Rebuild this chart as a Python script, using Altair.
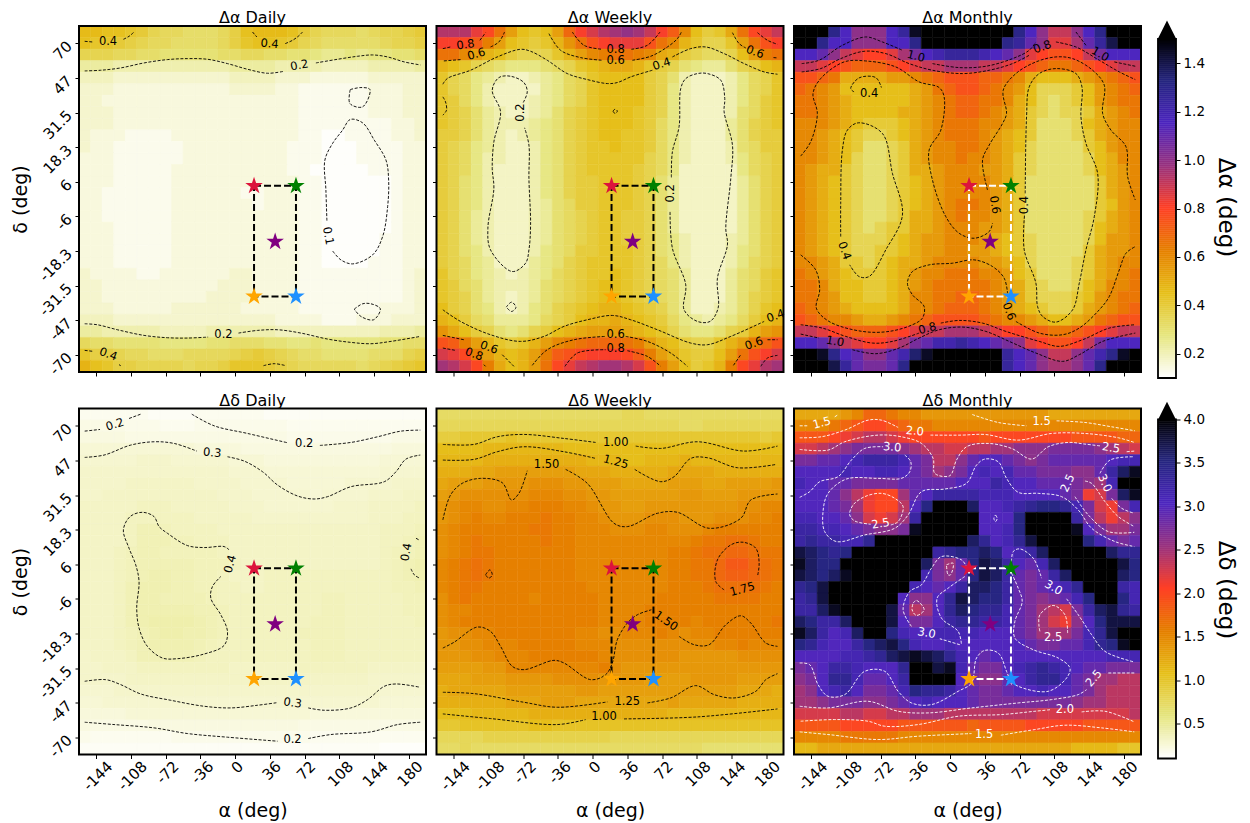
import altair as alt
import pandas as pd

# ---------- axis labels ----------
RA_TICKS = [-144, -108, -72, -36, 0, 36, 72, 108, 144, 180]
DEC_ROWS = [1.5, 4.5, 7.5, 10.5, 13.5, 16.5, 19.5, 22.5, 25.5, 28.5]
DEC_LABELS = ["70", "47", "31.5", "18.3", "6", "-6", "-18.3", "-31.5", "-47", "-70"]
CMAP = ["#ffffff", "#e6e680", "#e6bf1a", "#e68000", "#ff4026", "#993380", "#4d26bf", "#262680", "#000000"]

# ---------- gridded values: one base-36 character per cell, times the panel's step ----------
A_DAILY_STEP = 0.021
A_DAILY = [
"mmllkjhggf ffgilm mmljh gggfg hhij","lkkjihggff ffgikl lkjhg fffff ghhi","hhhggffeee eeffgg ffeed ccdcd deef",
"bbbaaaaaaa aaabbb baaaa 9999a aaab","9998888888 888999 98887 77778 8888","8887777777 777888 87766 66667 7788",
"8877777777 777777 77766 66667 7788","8887777777 777777 77766 66667 7788","8887777777 777777 77766 66666 6778",
"8777666677 777777 77766 55666 6778","8776666667 777777 77666 55566 6677","7776666667 777777 77666 55566 6677",
"7776666677 777777 77665 55556 6677","7776666677 777777 77766 55555 5677","7766666677 777766 77766 55555 5677",
"7766666677 777776 77766 55555 5677","7766666677 777777 77766 55555 5677","7776666677 777777 77766 55555 5677",
"7776666677 777777 77766 55555 6677","7776666677 777777 77766 55555 6677","7776666677 777777 77766 55556 6677",
"8777766777 777887 77766 66666 6678","8877777777 778887 77766 66666 6678","8877777777 788887 77766 66666 6678",
"8887777788 888877 77766 66666 7778","9998888888 888888 87777 66677 7888","bbaaaaa999 9aaaaa a9999 99999 aaab",
"gffeeeeddd deefff eedde ddddd eeff","kiihggfffg ggghij ihgff eeeef ffhi","nlkiihhhhg hhikkk jihgg gggfg hijk",
]
A_WEEKLY_STEP = 0.03
A_WEEKLY = [
"vvvsqmifef inrtvw xwuro kfdeh mqsu","rrqolifede gjmprs sspmk gecce impr","mmkigfdccc egiklm mlkhg dcbbc film",
"gfecba999a bcefgh hgedc a988a cdfg","ecb9876678 9bceff ffdca 76667 9bce","ecb9766668 9bceff ffdc9 76667 9bce",
"edb9766678 9bceff ffdc9 76667 9bde","edca876678 acdeff fedc9 76667 abde","edca877789 acdeff fedb9 76668 acde",
"ddca876789 acdeff eedb9 76668 acdd","dcb9876679 acdeef eedb9 76667 abdd","dcb9776679 acdeee eecb9 76667 9bcd",
"dcb9766679 acdeee edcb9 66666 9bcd","dca9766679 acddee edca8 66666 8acd","dca9766679 acddee edca8 66666 8acd",
"dca9766678 abddee edca8 66666 8acd","dca8766678 abcdee ddca8 66666 8acd","dca8766678 abcdee ddca8 66666 8acd",
"dca8766678 abcdee ddca9 76667 8acd","dca9766679 abddee edca9 76667 9acd","dcb9866689 acdeee edcb9 76667 9bcd",
"ecb9876789 bcdeef edcba 86668 abde","edba87778a bcdeff edcba 86668 abde","edca87678a bcdeff edcba 86668 acde",
"fdca97679a cdefgg fedca 86678 acef","gfdba8889b cdfggh gfedb 98789 bdfg","jhfdca9acd fghiii hgfec a99ac dgij",
"poligedegi klmnnn mligf dcceg ilnp","tsqligfgil opqrrr qolig eddfi mprt","wvtqlhfgim qsuvww vtpli fdegl qsvw",
]
A_MONTHLY_STEP = 0.05
A_MONTHLY = [
"uuuqnkkknp tuuuuu uuuqn kiikn quuu","uuqnnkkknn quuuuu uuqpm khhjm psuu","nnmkihgghj lnoppp onmkh gffgi lnnn",
"iihgfeeefg hiijjj iihgf eddef ghii","ffedaaaabb cdefff eedca 999ab cdef","edcb999999 abdeff edcb9 77789 bcde",
"ddcba99999 abcdee ddca9 76789 bcdd","ddcba9999a abcdee dcba8 76778 abcd","cccba98889 abcddd ccba8 66679 abcc",
"ccba987789 abcddd cba98 66678 abcc","ccba986678 abccdd cba97 66668 9bcc","ccba976678 abccdc cba87 66667 9acc",
"cbaa876678 aabccc bba87 66667 9abc","cba9876678 9abccc cba86 66666 8abc","cba9876678 9abccc cba86 66666 8abc",
"cba9876678 9abcdd cba86 66666 89bc","cba9876678 aabcdc cba86 66667 8abc","cba9876788 aabccc bba86 66667 9abc",
"cba9877789 abbccc ba987 66667 9bbc","cba9877889 abbccb ba987 66668 abbc","ccba88789a abcccc bba97 66678 abcc",
"dcba98889a bccddd ccb98 66678 abcd","ddca99889a bcdddd dcba8 76679 accd","ddcb99889a ccddee dcba8 77789 bcdd",
"edcba9999a ccdeee dcba9 8778a bcde","fedccbaabc deffff edccb a99ab deff","iihgfeeefg hiijjj ihggf eddef ghii",
"nnmkihgghj lmoopo nmlkh gffgi lnnn","uutqnmkkmo rtuuuu uupnm kiikm oqtu","uuuspmllmq uuuuuu uupnm kjjkm quuu",
]
D_DAILY_STEP = 0.02
D_DAILY = [
"8888887777 888888 77777 77777 7777","aaaa999888 999999 99888 88888 8888","bbbbaaaaaa aaaaaa aa999 99999 9aaa",
"dddddddddd ccccbb bbbbb bbbbb bccc","eeeeefffee eeeddd ccccc ccccc dddd","ffffffffff fffeee ddddd ddddd eeee",
"ffffgggggg ffffee eeddd ddeee efff","ffgggggggg ggfffe eeeed eeeef ffgg","ggggghhhgg gggfff eeeee efffg gggh",
"gggghhhhhh gggggf fffff ffffg gghh","gggghjjihh hhgggg ggggg ggggg hhhi","gggghjjjii hhhggg ggggg ggggg hhij",
"ggghijjiii iihggg ggggg ggggg hiij","ggghijjjjj iiihgg ggggg ggggg hijk","ggghijkkjj iihggg hhhhh hhhhh hijk",
"ggghjkkkjj iihhgg hhhhh hhhhh hiij","ggghjkkjjj jihhhh hhhhh iihhh hhii","ggghjkkkkk jjihhh hhhhh iihhh hhii",
"ggghjkllll kjihhh hhhhi iihhh hhhi","ggghijkllk kjihhh hhhii iihhh hhhh","ggghijkkkk jihhhh hhhhi iihhh hhhh",
"fggghjjjjj ihhhhh hhhhi iihhh hhhh","ffggghhhhh hhhggg ggghh hhhhg gggg","ffffgggggg gggggg ggggg ggggf ffff",
"eeefffffff ffffff fffff fffff eeee","ddeeeeeeee eeeeee eeeee eeeee dddd","ccccdddddd dddddd ddddc ccccc cccc",
"baaaaabbbb bbbbbb bbbaa aaaaa aaaa","9888888899 999999 99998 88888 8888","7777777777 777777 77777 77777 6666",
]
D_WEEKLY_STEP = 0.06
D_WEEKLY = [
"cccccccccc cccccc ddccc ccccc cccc","dddddddddd dddddd ddddd ccddd dddd","ffgggghggg gggggg ggggg ggggg ggfg",
"iiiijjjjjj jiiiii iiiii iiiii iiii","jjjjkkkkkk kkkjjj iijjj kjjjj jjjj","kkkllmmmmm mmlllk kkkkl lllkk kkkk",
"lmmmnnnnoo onnmmm llllm mmllm mmmn","mnoooooopp poonnm mmmmm nnmmm nnnn","noppooppqq qpponn mmnnn nnnnn oopp",
"nopqppqqqr qqppon nnooo nnnoo oppq","opqqqqqqrr qqpppo ooppo oopqq qqqq","opqrqqqqqr qqpppp ppppp pqrrs srqq",
"opqrrqqqqq qqpppp ppppq qrsst tsrr","pqrsrqqqqq qqpppp ppppq qrrtv vtsr","pqrsrqqqqq qqpppp ppppq qrrtu utsr",
"pqrrqqqqqq qqqppp ppppq qqrss ssrq","oqrqqqqqpq qqqqpp pppqq qqqrr rrqq","oppqqqqqqq qqqqpp ppqqq qqqqq qqqq",
"opqqqqqqqq qqqqpp ppqqq qpqqq qqqr","nooppqqqqq qqppoo pppqp oppqq qqqq","nnoopppqqq qqpppo ooooo ooopp qppp",
"nnnoopppqq qqqqpo ooooo nnnnn oooo","mmmmnnpppp ppppqo nnnnn nnnnn nnnn","lllmmmnnnn oooonn nnmmm mnnnn mmmm",
"klllllmmmm mmnnmm mmmmm mmmmm lllk","kkkkkklllm mmllll llllm lllll kkkk","iiijjjjjkk kkkkkk kkkkj jjjjj jjjj",
"gghhhhhhii hhhhhh hhhhh hhhhh hhhh","ddddeeeeee eeeeed ddddd ddddd dddd","ccdccccccc cccccc ccccc ccbbb bbbb",
]
D_MONTHLY_STEP = 0.125
D_MONTHLY = [
"aaaabceedc cbbbbb bbbbb baaaa aaaa","cccdefggfe ddcccc ccccc ccccc cccc","fffghijjih gggggg fgggg gggff ffee",
"iijklmmmml kjjiij jkkll lmmmm lkji","mmnnopqqqp nmjjln oonml mnnnn nopp","oooopooppo nmklmo popnn mmmll nqtv",
"poonnmmmmn nnnnoo oqpoo nnnml kpww","ooonljhggk noqqqq pppoo oonmh imtv","ooonmkhggj oswwwt oopqr ssrpm ihmp",
"ppoonlihik qwwwww ooosw wwwqm jhjl","qqpponmllm vwwwww oopsw wwwvo mkkm","qrqqpprwww wwwwwt ropru wwwws pnmn",
"utsrswwwww wwqrss tsopq twwww wtrr","vtsswwwwww wtmkns utqon ptwww wwus","utstvwwwww wpmlns utqnm nqtww wwts",
"rsuwwwwwww ponoqt tsqnm noprw wwqp","qruwwwwwwo llorut ssqnm lmnps wwsp","qqtvwwwwun jkorts rrpnm kjimq turq",
"tsqqtwwwuo mmoqrr qqpnm kihlo suuu","vtqoptwwsp oopppp ooonm kkkmp ruww","srpooqstus poopoo oooon mmnnp rsvw",
"ooooppqrtu vutrpo noooo ooooo oppp","mnoqqpooor wwuvpn mmopq rqpon nmmm","lmorrpnnoq wwwwom llnoq rrpnm kkjj",
"klopqommnp srrqon mmnoo poonm kjjj","kklmmmllmn opooon mmmmm mmmlk kjjj","iiiijjiijj kkkjjj jjjjj iiiii iiij",
"ffffgggggf fffffe ffffg ggggf ffff","ccccdddddc cccccc ccccc ccccc cccc","99aaaaaaaa aaaaaa aaaaa aaa99 9988",
]

# ---------- contour read-offs, in units of 1/1040 of the panel, plus reading origin ----------
READ_SPAN = 1040.0
C_A_DAILY = [
[(42,73),(65,75)],[(158,67),(175,58),(190,45)],[(545,45),(558,60)],[(643,80),(665,70),(682,58),(695,45)],
[(42,162),(90,160),(150,153),(220,138),(290,128),(350,125),(410,127),(470,140),(530,157),(590,169),(640,163)],
[(735,138),(800,127),(860,118),(905,114),(950,120),(1000,135),(1048,144)],
[(838,218),(870,212),(897,218),(875,270),(837,260),(838,218)],
[(768,612),(765,520),(762,430),(785,380),(815,340),(838,308),(875,318),(910,370),(945,430),(953,490),(950,570),(935,660),(905,715),(845,742),(810,730),(785,703)],
[(850,878),(875,862),(900,862),(928,877),(908,910),(870,900),(850,878)],
[(42,922),(80,925),(140,940),(220,957),(290,964),(350,965),(412,962)],
[(503,950),(560,942),(620,940),(690,950),(770,968),(840,978),(900,982),(960,975),(1048,960)],
[(42,1002),(68,1005)],[(145,1045),(150,1048)],[(578,1048),(610,1042),(645,1048)],
]
L_A_DAILY = [("0.4",112,76,0),("0.4",596,82,5),("0.2",686,147,-10),("0.1",770,658,80),("0.2",458,955,0),("0.4",112,1015,20)]
C_D_DAILY = [
[(42,88),(88,83)],[(175,50),(210,37)],
[(363,37),(430,72),(530,95),(650,123)],[(747,131),(840,122),(920,105),(990,88),(1048,85)],
[(42,167),(100,160),(180,130),(250,120),(310,125),(378,148)],
[(470,165),(520,178),(575,210),(620,250),(680,283),(730,292),(770,285),(840,255),(940,240),(975,210),(1005,172),(1048,160)],
[(475,445),(460,435),(400,438),(350,432),(290,395),(265,375),(250,345),(215,332),(178,345),(158,385),(175,440),(195,490),(205,540),(198,620),(205,680),(230,735),(275,770),(320,772),(400,758),(460,732),(470,690),(450,640),(420,590),(425,555),(450,525)],
[(1035,410),(1044,415)],[(1020,502),(1030,520),(1046,530)],
[(42,840),(105,835),(150,850),(210,878),(300,897),(400,915),(480,920),(560,912),(620,904)],
[(712,920),(760,927),(840,920),(890,895),(940,855),(975,848),(1048,858)],
[(42,963),(130,970),(250,980),(350,997),(470,1008),(620,1020)],
[(712,1012),(780,1000),(900,992),(980,970),(1048,963)],
]
L_D_DAILY = [("0.2",133,70,-18),("0.2",700,127,0),("0.3",424,155,5),("0.4",480,488,-75),("0.4",1008,452,-80),("0.3",665,907,8),("0.2",665,1017,0)]
C_A_WEEKLY = [
[(37,110),(60,105)],[(148,85),(165,62)],[(40,147),(90,143)],[(180,105),(205,90),(222,60)],
[(37,217),(50,200),(120,175),(200,135),(270,112),(300,118),(350,145),(410,185),(470,203),(530,215),(560,212),(600,195),(665,175)],
[(725,135),(780,110),(825,105),(880,125),(940,155),(1000,180),(1040,187)],
[(425,60),(460,100),(515,112)],[(602,112),(650,100),(688,60)],
[(355,65),(390,115),(450,137),(515,145)],[(605,145),(660,133),(710,105),(740,80),(752,60)],
[(37,255),(45,270),(48,295),(37,310)],
[(980,62),(1010,85),(1040,97)],[(905,62),(925,95),(945,108)],[(1028,137),(1040,138)],
[(278,272),(290,240),(280,212),(240,193),(205,197),(185,235),(210,300),(190,390),(185,470),(190,530),(172,650),(180,715),(245,780),(285,755),(295,715),(300,640),(295,500),(295,400),(282,348)],
[(227,887),(243,872),(256,888),(243,900),(227,887)],[(547,298),(553,292),(560,298),(553,305),(547,298)],
[(722,497),(725,420),(745,345),(750,230),(765,200),(800,185),(830,185),(870,205),(882,260),(880,300),(905,400),(900,500),(885,650),(890,700),(860,800),(862,890),(838,930),(800,930),(760,895),(765,820),(725,710),(718,600)],
[(37,895),(90,930),(180,970),(270,990),(340,975),(400,945),(470,925),(545,912),(600,925),(680,955),(780,995),(830,1000),(900,975),(1000,930)],
[(37,972),(100,985)],[(215,1030),(250,1065)],[(305,1062),(350,1015),(430,985),(525,975)],[(585,975),(650,990),(720,1025),(770,1065)],
[(908,1062),(930,1030)],[(1010,985),(1040,985)],
[(37,1010),(75,1017)],[(160,1060),(165,1065)],[(403,1065),(440,1025),(525,1015)],[(590,1018),(650,1035),(690,1065)],[(990,1065),(1010,1040),(1040,1032)],
]
L_A_WEEKLY = [("0.8",105,100,-8),("0.6",138,128,-15),("0.4",693,158,-18),("0.8",555,113,0),("0.6",555,148,0),("0.6",972,122,20),("0.2",272,302,-90),("0.2",722,545,-90),("0.4",1035,915,-20),("0.6",175,1010,20),("0.6",555,972,0),("0.6",970,998,-20),("0.8",130,1030,20),("0.8",555,1013,0)]
C_D_WEEKLY = [
[(37,143),(130,143),(200,120),(280,113),(400,125),(495,137)],[(615,148),(690,155),(800,135),(940,163),(1040,148)],
[(37,190),(130,188),(200,165),(280,150),(400,165),(495,185)],[(612,218),(690,255),(730,240),(780,185),(830,183),(920,213),(1037,203)],
[(37,370),(60,295),(95,260),(150,245),(215,258),(243,310),(265,290),(290,222)],
[(405,218),(470,260),(550,380),(590,390),(680,350),(740,347),(835,395),(930,365),(960,310),(1040,292)],
[(880,580),(855,555),(860,490),(900,445),(937,437),(975,455),(985,500),(980,540)],
[(165,535),(178,520),(185,535),(175,545),(165,535)],
[(37,755),(70,738),(140,692),(180,705),(210,750),(245,810),(280,820),(370,792),(400,800),(480,850),(525,835),(545,800),(560,730),(590,680),(620,655),(662,640)],
[(745,720),(790,745),(835,745),(885,685),(930,658),(960,680),(1005,740),(1040,750)],
[(37,888),(130,892),(280,918),(380,933),(530,917)],[(650,920),(720,905),(795,868),(850,895),(910,905),(975,885),(1005,850),(1040,832)],
[(37,953),(180,967),(380,985),(465,970)],[(580,968),(800,962),(1040,938)],
]
L_D_WEEKLY = [("1.00",555,140,0),("1.25",555,197,15),("1.50",348,205,0),("1.75",935,580,-15),("1.50",705,675,35),("1.25",590,917,0),("1.00",520,963,0)]
C_A_MONTHLY = [
[(48,140),(100,130),(170,85),(240,60),(290,75),(350,100)],[(440,140),(520,152),(600,148),(680,125),(730,100),(750,75)],
[(48,165),(105,155),(165,125),(235,103),(300,110),(370,140),(440,160),(530,170),(610,160),(680,140),(730,115)],
[(810,75),(870,90),(940,130),(1000,165),(1048,188)],
[(870,45),(900,85)],[(985,135),(1048,148)],
[(45,418),(75,375),(95,290),(82,230),(105,185),(175,135),(240,132),(330,150),(400,195),(460,212),(475,240),(465,340),(430,400),(440,490),(480,600),(520,650),(565,665),(610,645),(620,620)],
[(605,520),(590,430),(610,385),(650,320),(662,290),(652,220),(690,170),(750,135),(810,120),(860,125),(920,160),(955,205),(950,290),(975,340),(1020,390),(1025,480),(1048,550)],
[(205,225),(195,215),(220,183),(270,182),(287,212)],
[(165,660),(165,560),(170,400),(185,340),(218,318),(290,350),(320,470),(350,595),(300,700),(250,780),(220,780),(192,745)],
[(718,530),(722,300),(730,210),(760,170),(810,155),(870,170),(888,210),(885,300),(900,380),(935,470),(925,600),(900,700),(880,800),(860,880),(810,917),(770,900),(755,870),(750,800),(715,700),(716,595)],
[(45,715),(90,760),(102,820),(92,875),(130,915),(230,945),(310,945),(380,925),(410,905),(415,870),(380,835),(365,800),(380,765),(430,745),(500,740),(565,730),(620,750),(655,785),(665,830)],
[(690,915),(760,950),(830,955),(880,935),(940,880),(970,840),(1000,760),(1020,710),(1048,690)],
[(45,925),(110,935),(180,960),(260,980),(320,975),(400,950)],[(465,920),(520,912),(590,920),(660,945),(760,975),(820,990),(890,970),(970,935),(1048,925)],
[(45,953),(100,965)],[(200,1000),(270,1012),(340,995),(400,965),(460,940),(530,932),(600,945),(670,975),(750,1010),(830,1035),(880,1015),(950,975),(1048,950)],
]
L_A_MONTHLY = [("1.0",390,120,15),("0.8",770,92,-20),("1.0",942,113,30),("0.6",625,565,80),("0.4",250,230,0),("0.4",175,703,70),("0.4",718,565,-90),("0.6",668,885,70),("0.8",425,938,-15),("1.0",148,977,10)]
C_D_MONTHLY = [
[(45,72),(70,72)],[(150,45),(158,40)],[(562,38),(640,62),(725,72)],[(815,57),(900,62),(980,75),(1050,87)],
[(45,108),(110,105),(180,85),(250,55),(290,55),(340,77)],[(437,100),(530,100),(600,98),(700,115),(800,95),(900,95),(1000,108),(1048,122)],
[(45,143),(130,145),(180,120),(280,100),(350,105),(410,125),(445,170),(450,215),(495,222),(515,175),(545,135),(610,125),(680,140),(740,172),(790,135),(850,122),(900,127),(950,133)],
[(1025,150),(1048,148)],
[(45,287),(75,270),(105,240),(160,225),(200,175),(240,140),(295,135)],
[(360,160),(378,180),(375,210),(350,230),(280,230),(185,232),(130,275),(115,330),(120,390),(155,420),(240,400),(330,380),(370,340),(410,270),(480,262),(545,245),(575,190),(600,172),(640,180),(665,230),(700,272),(760,275),(830,285),(880,325),(920,380),(990,420),(1048,435)],
[(318,370),(340,360),(355,315),(330,290),(290,275),(240,285),(205,310),(195,340),(210,358),(258,368)],
[(870,285),(910,340),(970,390),(1048,392)],[(900,238),(920,245),(960,300),(1000,345),(1048,375)],
[(980,290),(1010,320),(1048,335)],[(945,215),(975,175),(1048,165)],
[(632,340),(637,350),(632,360),(627,350),(632,340)],
[(680,480),(685,450),(705,442),(745,470),(770,530)],[(845,592),(880,640),(920,700),(960,750),(1048,782)],
[(680,515),(700,560),(712,600),(690,660),(690,710),(745,745),(820,770),(855,800),(845,830),(790,870),(700,855),(665,830)],
[(525,730),(465,712)],[(380,675),(355,625),(375,570),(410,550),(440,500),(470,465),(530,475),(545,495)],
[(540,525),(490,560),(457,590),(470,650),(520,690),(530,730)],
[(485,490),(505,485),(497,520),(490,520),(485,490)],[(385,605),(395,597),(418,625),(395,642),(382,625),(385,605)],
[(848,695),(840,640),(805,612),(765,640),(762,670),(765,690)],
[(45,785),(75,790),(100,850),(130,885),(180,880),(240,810),(300,810),(340,870),(380,905),(440,910),(520,870),(560,845),(575,770),(600,747),(640,755),(665,810),(680,850)],
[(45,915),(130,920),(250,900),(340,930),(430,935),(560,920),(700,905),(800,895),(880,880),(905,865)],[(970,815),(1048,815)],
[(48,960),(150,955),(250,960),(300,975),(400,970),(520,945),(650,940),(750,930),(800,925)],[(890,932),(960,930),(1048,962)],
[(45,992),(130,1000),(280,1015),(400,1005),(560,997)],[(648,1002),(750,985),(840,972),(950,980),(1048,992)],
]
L_D_MONTHLY = [("1.5",112,65,-15),("1.5",770,62,0),("2.0",390,90,5),("2.5",978,140,8),("3.0",322,138,5),("2.5",288,368,-10),("2.5",850,245,-65),("3.0",958,245,65),("3.0",805,560,30),("3.0",425,697,10),("2.5",805,710,0),("2.5",928,832,-50),("2.0",840,925,0),("1.5",598,1002,0)]

# ---------- sky positions of the five stars and the box, in degrees / grid rows ----------
STAR_RA = [19.6, 63.1, 63.1, 19.6, 41.5]
STAR_ROW = [13.86, 13.86, 23.45, 23.45, 18.7]
STAR_COLORS = ["#dc143c", "#008000", "#1e90ff", "#ffa500", "#800080"]
BOX_ORDER = [0, 1, 2, 3, 0]

PANEL_W, PANEL_H = 347, 346


def heat_table(rows, step):
    recs = []
    for r, s in enumerate(rows):
        s = s.replace(" ", "")
        s = (s + s[-1] * 30)[:30]
        for c, ch in enumerate(s):
            a0 = -162 + 12 * c
            recs.append({"a0": a0, "a1": a0 + 12, "r0": r, "r1": r + 1, "v": int(ch, 36) * step})
    return pd.DataFrame(recs)


def contour_table(segs, ox, oy):
    recs = []
    for i, seg in enumerate(segs):
        for j, (x, y) in enumerate(seg):
            recs.append({"seg": i, "ord": j, "a": -162 + 360 * (x - ox) / READ_SPAN, "r": 30 * (y - oy) / READ_SPAN})
    return pd.DataFrame(recs)


def label_table(labels, ox, oy):
    return pd.DataFrame([
        {"t": t, "a": -162 + 360 * (x - ox) / READ_SPAN, "r": 30 * (y - oy) / READ_SPAN, "ang": ang % 360}
        for t, x, y, ang in labels
    ])


STAR_PATH = "M0,-1L0.224,-0.309L0.951,-0.309L0.363,0.118L0.588,0.809L0,0.382L-0.588,0.809L-0.363,0.118L-0.951,-0.309L-0.224,-0.309Z"
XDOM = alt.Scale(domain=[-162, 198], nice=False, zero=False)
YDOM = alt.Scale(domain=[30, 0], nice=False, zero=False)
LABEL_EXPR = "[" + ",".join(f"'{s}'" for s in DEC_LABELS) + "][round((datum.value-1.5)/3)]"
X_LABEL_OFFSET = {
    "condition": [
        {"test": "datum.value==0", "value": 5},
        {"test": "datum.value<-99", "value": 13},
        {"test": "datum.value<0", "value": 10},
        {"test": "datum.value>99", "value": 11},
    ],
    "value": 8,
}


def color_scale(vmax):
    return alt.Scale(domain=[0.1 + (vmax - 0.1) * i / 8 for i in range(9)], range=CMAP, clamp=True, interpolate="rgb")


def panel(title, rows, step, segs, labels, origin, vmax, first_col, last_row, line_color, box_color):
    heat = heat_table(rows, step)
    color = color_scale(vmax)
    xaxis = alt.Axis(values=RA_TICKS, labelExpr="''+datum.value", labels=last_row, title="α (deg)" if last_row else "",
                     labelAngle=-45, labelAlign="right", labelBaseline="middle", grid=False, domain=False, tickSize=4,
                     tickColor="black", labelFontSize=15, titleFontSize=19, titleFontWeight="normal", labelPadding=5, titlePadding=8,
                     labelOverlap=False, labelOffset=X_LABEL_OFFSET)
    yaxis = alt.Axis(values=DEC_ROWS, labelExpr=LABEL_EXPR, labels=first_col, title="δ (deg)" if first_col else "",
                     labelAngle=-45, labelAlign="right", labelBaseline="middle", grid=False, domain=False, tickSize=4,
                     tickColor="black", labelFontSize=15, titleFontSize=19, titleFontWeight="normal", labelPadding=6, titlePadding=6,
                     labelOverlap=False)
    X = lambda f: alt.X(f, scale=XDOM, axis=xaxis)
    Y = lambda f: alt.Y(f, scale=YDOM, axis=yaxis)
    h = alt.Chart(heat).mark_rect(strokeWidth=0.5).encode(
        x=X("a0:Q"), x2="a1:Q", y=Y("r0:Q"), y2="r1:Q",
        color=alt.Color("v:Q", scale=color, legend=None),
        stroke=alt.Stroke("v:Q", scale=color, legend=None),
    )
    lines = alt.Chart(contour_table(segs, *origin)).mark_line(
        color=line_color, strokeWidth=0.9, strokeDash=[3, 1.6], interpolate="catmull-rom", clip=True
    ).encode(x=X("a:Q"), y=Y("r:Q"), detail="seg:N", order="ord:Q")
    texts = alt.Chart(label_table(labels, *origin)).mark_text(
        color=line_color, fontSize=11.5, align="center", baseline="middle"
    ).encode(x=X("a:Q"), y=Y("r:Q"), text="t:N", angle=alt.Angle("ang:Q", scale=None))
    box = alt.Chart(pd.DataFrame([
        {"i": k, "a": STAR_RA[s], "r": STAR_ROW[s]} for k, s in enumerate(BOX_ORDER)
    ])).mark_line(color=box_color, strokeWidth=2, strokeDash=[7, 3]).encode(x=X("a:Q"), y=Y("r:Q"), order="i:Q")
    stars = alt.Chart(pd.DataFrame({"c": STAR_COLORS, "a": STAR_RA, "r": STAR_ROW})).mark_point(
        shape=STAR_PATH, filled=True, size=340, opacity=1, strokeWidth=0
    ).encode(x=X("a:Q"), y=Y("r:Q"), fill=alt.Fill("c:N", scale=None, legend=None))
    frame = alt.Chart(pd.DataFrame({"a0": [-162], "a1": [198], "r0": [0], "r1": [30]})).mark_rect(
        fillOpacity=0, stroke="black", strokeWidth=2
    ).encode(x=X("a0:Q"), x2="a1:Q", y=Y("r0:Q"), y2="r1:Q")
    return alt.layer(h, lines, texts, box, stars, frame).properties(
        width=PANEL_W, height=PANEL_H,
        title=alt.TitleParams(title, fontSize=16, fontWeight="normal", offset=-1, anchor="middle"),
    )


BAR_INSET = 6.5
BAR_WIDTH = 18


def colorbar(vmax, ticks, ylo, yhi, tip, title):
    n = 170
    ramp = pd.DataFrame({
        "v0": [0.1 + (vmax - 0.1) * i / n for i in range(n)],
        "v1": [0.1 + (vmax - 0.1) * (i + 1) / n for i in range(n)],
    })
    color = color_scale(vmax)
    ys = alt.Scale(domain=[ylo, yhi], nice=False, zero=False)
    yaxis = alt.Axis(orient="right", values=ticks, title=title, titleAngle=90, titleFontSize=23, titleFontWeight="normal",
                     grid=False, domain=False, tickSize=4, tickColor="black", labelFontSize=13.5, labelPadding=3, titlePadding=9,
                     labelOverlap=False, format=".1f", titleY=181)
    xl, xr = alt.value(BAR_INSET), alt.value(BAR_INSET + BAR_WIDTH)
    r = alt.Chart(ramp).mark_rect(strokeWidth=0.5).encode(
        x=xl, x2=xr,
        y=alt.Y("v0:Q", scale=ys, axis=yaxis), y2="v1:Q",
        color=alt.Color("v0:Q", scale=color, legend=None),
        stroke=alt.Stroke("v0:Q", scale=color, legend=None),
    )
    frame = alt.Chart(pd.DataFrame({"v0": [0.1], "v1": [vmax]})).mark_rect(
        fillOpacity=0, stroke="black", strokeWidth=1.8
    ).encode(x=xl, x2=xr, y=alt.Y("v0:Q", scale=ys, axis=yaxis), y2="v1:Q")
    arrow = alt.Chart(pd.DataFrame({"v": [tip]})).mark_point(
        shape="M-1,1L0,-1L1,1Z", filled=True, fill="black", size=324, opacity=1, strokeWidth=0
    ).encode(x=alt.value(BAR_INSET + BAR_WIDTH / 2), y=alt.Y("v:Q", scale=ys, axis=yaxis))
    return alt.layer(r, frame, arrow).properties(width=BAR_INSET + BAR_WIDTH, height=PANEL_H)


charts = [
    panel("Δα Daily", A_DAILY, A_DAILY_STEP, C_A_DAILY, L_A_DAILY, (25, 27), 1.5, True, False, "black", "black"),
    panel("Δα Weekly", A_WEEKLY, A_WEEKLY_STEP, C_A_WEEKLY, L_A_WEEKLY, (18, 42), 1.5, False, False, "black", "black"),
    panel("Δα Monthly", A_MONTHLY, A_MONTHLY_STEP, C_A_MONTHLY, L_A_MONTHLY, (25, 27), 1.5, False, False, "black", "white"),
    colorbar(1.5, [0.2, 0.4, 0.6, 0.8, 1.0, 1.2, 1.4], 0.1248, 1.5537, 1.539, "Δα (deg)"),
    panel("Δδ Daily", D_DAILY, D_DAILY_STEP, C_D_DAILY, L_D_DAILY, (25, 20), 4.0, True, True, "black", "black"),
    panel("Δδ Weekly", D_WEEKLY, D_WEEKLY_STEP, C_D_WEEKLY, L_D_WEEKLY, (18, 35), 4.0, False, True, "black", "black"),
    panel("Δδ Monthly", D_MONTHLY, D_MONTHLY_STEP, C_D_MONTHLY, L_D_MONTHLY, (28, 20), 4.0, False, True, "white", "white"),
    colorbar(4.0, [0.5, 1.0, 1.5, 2.0, 2.5, 3.0, 3.5, 4.0], 0.146, 4.1265, 4.10, "Δδ (deg)"),
]
chart = alt.concat(*charts, columns=4, spacing={"row": 36.5, "column": 10.5}, bounds="flush", align="each").resolve_scale(
    color="independent", stroke="independent"
).properties(
    padding={"left": 3, "top": 2, "right": 3, "bottom": 0}
).configure(font="DejaVu Sans").configure_view(stroke=None).configure_axis(
    labelColor="black", titleColor="black", tickWidth=1
).configure_title(color="black")
chart.save("out.html", embed_options={"renderer": "svg", "actions": False})
